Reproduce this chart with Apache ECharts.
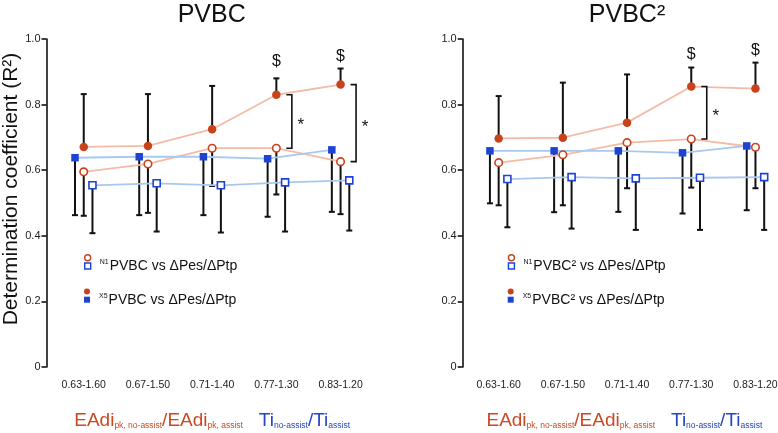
<!DOCTYPE html>
<html><head><meta charset="utf-8">
<script src="https://cdn.jsdelivr.net/npm/echarts@6/dist/echarts.min.js"></script>
<style>html,body{margin:0;padding:0;background:#fff}#c{width:778px;height:433px}</style>
</head><body><div id="c"></div>
<script>
// ---------- data ----------
const categories = ['0.63-1.60', '0.67-1.50', '0.71-1.40', '0.77-1.30', '0.83-1.20'];
const yTickValues = [0, 0.2, 0.4, 0.6, 0.8, 1.0];

// Left panel: PVBC
const pvbcX5Circle      = [0.671, 0.674, 0.725, 0.830, 0.861];
const pvbcX5CircleUpper = [0.832, 0.832, 0.857, 0.880, 0.910];
const pvbcX5Square      = [0.638, 0.641, 0.641, 0.635, 0.662];
const pvbcX5SquareLower = [0.463, 0.463, 0.463, 0.458, 0.473];
const pvbcN1Circle      = [0.595, 0.619, 0.667, 0.667, 0.626];
const pvbcN1CircleLower = [0.461, 0.470, 0.552, 0.526, 0.466];
const pvbcN1Square      = [0.554, 0.560, 0.554, 0.563, 0.569];
const pvbcN1SquareLower = [0.408, 0.413, 0.410, 0.413, 0.416];
const pvbcStarIdx   = [3, 4];
const pvbcDollarIdx = [3, 4];
const pvbcDollarY   = [0.931, 0.946];

// Right panel: PVBC^2
const pvbc2X5Circle      = [0.697, 0.699, 0.745, 0.855, 0.849];
const pvbc2X5CircleUpper = [0.826, 0.867, 0.892, 0.913, 0.928];
const pvbc2X5Square      = [0.659, 0.659, 0.659, 0.653, 0.674];
const pvbc2X5SquareLower = [0.499, 0.472, 0.473, 0.468, 0.478];
const pvbc2N1Circle      = [0.623, 0.647, 0.684, 0.695, 0.670];
const pvbc2N1CircleLower = [0.493, 0.493, 0.545, 0.547, 0.545];
const pvbc2N1Square      = [0.573, 0.579, 0.575, 0.577, 0.579];
const pvbc2N1SquareLower = [0.426, 0.422, 0.418, 0.418, 0.418];
const pvbc2StarIdx   = [3];
const pvbc2DollarIdx = [3, 4];
const pvbc2DollarY   = [0.953, 0.964];

// ---------- style ----------
const RED = '#c8421b', BLUE = '#1c43d4', SALMON = '#f4bba6', LBLUE = '#a9c8ef', INK = '#111';
const TXTRED = '#c94a22', TXTBLUE = '#2447c4';
const FONT = '"Liberation Sans", Arial, sans-serif';
const OFF = 0.136;

function errorBars(gi, values, ends, off) {
  return {
    type: 'custom', xAxisIndex: gi, yAxisIndex: gi, z: 2, silent: true,
    data: values.map((v, i) => [i + off, v, ends[i]]),
    renderItem(params, api) {
      const a = api.coord([api.value(0), api.value(1)]);
      const b = api.coord([api.value(0), api.value(2)]);
      return { type: 'group', children: [
        { type: 'line', shape: { x1: a[0], y1: a[1], x2: b[0], y2: b[1] }, style: { stroke: INK, lineWidth: 2 } },
        { type: 'line', shape: { x1: b[0] - 3, y1: b[1], x2: b[0] + 3, y2: b[1] }, style: { stroke: INK, lineWidth: 2 } }
      ]};
    }
  };
}
function markers(gi, name, values, off, symbol, filled, color, lineColor, size) {
  return {
    type: 'line', name, xAxisIndex: gi, yAxisIndex: gi, z: 3,
    data: values.map((v, i) => [i + off, v]),
    symbol, symbolSize: size, showSymbol: true,
    itemStyle: filled ? { color } : { color: '#fff', borderColor: color, borderWidth: 1.6 },
    lineStyle: { color: lineColor, width: 1.8 },
    emphasis: { disabled: true }
  };
}
function brackets(gi, idx, hi, lo) {
  return {
    type: 'custom', xAxisIndex: gi, yAxisIndex: gi, z: 4, silent: true,
    data: idx.map(i => [i, hi[i], lo[i]]),
    renderItem(params, api) {
      const a = api.coord([api.value(0), api.value(1)]);
      const b = api.coord([api.value(0), api.value(2)]);
      const x = a[0];
      return { type: 'group', children: [
        { type: 'polyline', shape: { points: [[x + 10, a[1]], [x + 15.5, a[1]], [x + 15.5, b[1]], [x + 10, b[1]]] },
          style: { stroke: INK, lineWidth: 1.6, fill: null } },
        { type: 'text', style: { x: x + 24.5, y: (a[1] + b[1]) / 2 + 4, text: '*', fontSize: 17, fontFamily: FONT,
          fill: INK, align: 'center', verticalAlign: 'middle' } }
      ]};
    }
  };
}
function dollars(gi, idx, ys) {
  return {
    type: 'custom', xAxisIndex: gi, yAxisIndex: gi, z: 4, silent: true,
    data: idx.map((i, k) => [i, ys[k]]),
    renderItem(params, api) {
      const p = api.coord([api.value(0), api.value(1)]);
      return { type: 'text', style: { x: p[0], y: p[1], text: '$', fontSize: 16, fontFamily: FONT, fill: INK,
        align: 'center', verticalAlign: 'middle' } };
    }
  };
}

function panel(gi, pre, d) {
  return [
    errorBars(gi, d.x5c, d.x5cU, 0),
    errorBars(gi, d.x5s, d.x5sL, -OFF),
    errorBars(gi, d.n1c, d.n1cL, 0),
    errorBars(gi, d.n1s, d.n1sL, OFF),
    markers(gi, pre + 'N1c', d.n1c, 0, 'circle', false, RED, SALMON, 7.5),
    markers(gi, pre + 'N1s', d.n1s, OFF, 'rect', false, BLUE, LBLUE, 7),
    markers(gi, pre + 'X5c', d.x5c, 0, 'circle', true, RED, SALMON, 8.5),
    markers(gi, pre + 'X5s', d.x5s, -OFF, 'rect', true, BLUE, LBLUE, 7.5),
    brackets(gi, d.star, d.x5c, d.n1c),
    dollars(gi, d.dIdx, d.dY)
  ];
}

const series = [].concat(
  panel(0, 'L', { x5c: pvbcX5Circle, x5cU: pvbcX5CircleUpper, x5s: pvbcX5Square, x5sL: pvbcX5SquareLower,
    n1c: pvbcN1Circle, n1cL: pvbcN1CircleLower, n1s: pvbcN1Square, n1sL: pvbcN1SquareLower,
    star: pvbcStarIdx, dIdx: pvbcDollarIdx, dY: pvbcDollarY }),
  panel(1, 'R', { x5c: pvbc2X5Circle, x5cU: pvbc2X5CircleUpper, x5s: pvbc2X5Square, x5sL: pvbc2X5SquareLower,
    n1c: pvbc2N1Circle, n1cL: pvbc2N1CircleLower, n1s: pvbc2N1Square, n1sL: pvbc2N1SquareLower,
    star: pvbc2StarIdx, dIdx: pvbc2DollarIdx, dY: pvbc2DollarY })
);

const legendText = {
  LN1s: '{s|N1}{m|PVBC vs ΔPes/ΔPtp}',
  LX5s: '{s|X5}{m|PVBC vs ΔPes/ΔPtp}',
  RN1s: '{s|N1}{m|PVBC² vs ΔPes/ΔPtp}',
  RX5s: '{s|X5}{m|PVBC² vs ΔPes/ΔPtp}'
};
function iconLegend(name, left, cy, icon, filled, color) {
  return {
    show: true, selectedMode: false, padding: 0, left, top: cy - 3, itemWidth: 6, itemHeight: 6,
    data: [{ name, icon, itemStyle: filled ? { color, borderWidth: 0 } : { color: '#fff', borderColor: color, borderWidth: 1.4 } }],
    formatter: () => '', textStyle: { fontSize: 1, lineHeight: 1 }
  };
}
function textLegend(name, left, cy, filled, color) {
  return {
    show: true, selectedMode: false, padding: 0, left, top: cy - 8, itemWidth: 6, itemHeight: 6,
    data: [{ name, icon: 'rect', itemStyle: filled ? { color, borderWidth: 0 } : { color: '#fff', borderColor: color, borderWidth: 1.4 } }],
    formatter: n => legendText[n],
    textStyle: { color: INK, fontFamily: FONT, fontSize: 14,
      rich: { s: { fontSize: 7, verticalAlign: 'top', padding: [0, 1, 0, 4], color: INK, fontFamily: FONT },
              m: { fontSize: 14, color: INK, fontFamily: FONT } } }
  };
}

const bottomName = '{r|EAdi}{rs|pk, no-assist}{r|/EAdi}{rs|pk, assist}{r|   }{b|Ti}{bs|no-assist}{b|/Ti}{bs|assist}';
const bottomRich = {
  r: { fontSize: 19, color: TXTRED, fontFamily: FONT, lineHeight: 22, verticalAlign: 'bottom' },
  rs: { fontSize: 8.5, color: TXTRED, fontFamily: FONT, lineHeight: 8, verticalAlign: 'bottom' },
  b: { fontSize: 19, color: TXTBLUE, fontFamily: FONT, lineHeight: 22, verticalAlign: 'bottom' },
  bs: { fontSize: 8.5, color: TXTBLUE, fontFamily: FONT, lineHeight: 8, verticalAlign: 'bottom' }
};

function xAxis(gi, min, max, namePad) {
  return {
    gridIndex: gi, type: 'value', min, max,
    axisLine: { show: false, onZero: false }, axisTick: { show: false }, splitLine: { show: false },
    axisLabel: { customValues: [0, 1, 2, 3, 4], formatter: v => categories[Math.round(v)],
      fontSize: 10.5, color: '#222', margin: 13, fontFamily: FONT },
    name: bottomName, nameLocation: 'middle', nameGap: 41,
    nameTextStyle: { rich: bottomRich, padding: [0, 0, 0, namePad] }
  };
}
function yAxis(gi, name) {
  return {
    gridIndex: gi, type: 'value', min: yTickValues[0], max: yTickValues[yTickValues.length - 1], interval: 0.2,
    axisLine: { show: true, onZero: false, lineStyle: { color: INK, width: 1.6 } },
    axisTick: { show: true, length: 5, lineStyle: { color: INK, width: 1.6 } },
    splitLine: { show: false },
    axisLabel: { formatter: v => (v === 0 ? '0' : v.toFixed(1)), fontSize: 11, color: '#222', margin: 6, fontFamily: FONT },
    name, nameLocation: 'middle', nameGap: 21,
    nameTextStyle: { fontSize: 21, color: INK, fontFamily: FONT, padding: [0, 0, 0, 28] }
  };
}

const chart = echarts.init(document.getElementById('c'), null, { renderer: 'canvas' });
chart.setOption({
  animation: false,
  backgroundColor: '#fff',
  textStyle: { fontFamily: FONT },
  title: [
    { text: 'PVBC', left: 206.7, top: -2, textAlign: 'center', textStyle: { fontSize: 25, fontWeight: 'normal', color: INK, fontFamily: FONT } },
    { text: 'PVBC²', left: 622, top: -2, textAlign: 'center', textStyle: { fontSize: 25, fontWeight: 'normal', color: INK, fontFamily: FONT } }
  ],
  grid: [
    { left: 46.5, top: 39, width: 331.3, height: 328, containLabel: false, outerBoundsMode: 'none' },
    { left: 462.7, top: 39, right: 0, height: 328, containLabel: false, outerBoundsMode: 'none' }
  ],
  xAxis: [xAxis(0, -0.58, 4.58, 0), xAxis(1, -0.56, 4.351, 8)],
  yAxis: [yAxis(0, 'Determination coefficient (R²)'), yAxis(1, '')],
  legend: [
    iconLegend('LN1c', 84, 257, 'circle', false, RED),
    textLegend('LN1s', 84, 267, false, BLUE),
    iconLegend('LX5c', 84, 291.5, 'circle', true, RED),
    textLegend('LX5s', 84, 300.7, true, BLUE),
    iconLegend('RN1c', 507.7, 257, 'circle', false, RED),
    textLegend('RN1s', 507.7, 267, false, BLUE),
    iconLegend('RX5c', 507.7, 291.5, 'circle', true, RED),
    textLegend('RX5s', 507.7, 300.7, true, BLUE)
  ],
  series
});
</script></body></html>
